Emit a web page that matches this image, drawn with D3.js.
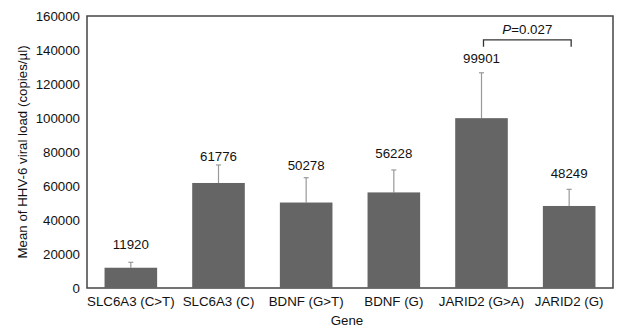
<!DOCTYPE html>
<html>
<head>
<meta charset="utf-8">
<script src="https://cdn.jsdelivr.net/npm/d3@7"></script>
<style>
  body { margin: 0; background: #fff; }
  text { font-family: "Liberation Sans", Arial, sans-serif; fill: #111; }
</style>
</head>
<body>
<div id="chart"></div>
<script>
// chart data
var genes = ["SLC6A3 (C>T)", "SLC6A3 (C)", "BDNF (G>T)", "BDNF (G)", "JARID2 (G>A)", "JARID2 (G)"];
var means = [11920, 61776, 50278, 56228, 99901, 48249];
var errUp = [3200, 10600, 14600, 13200, 26700, 9800];
var yTicks = [0, 20000, 40000, 60000, 80000, 100000, 120000, 140000, 160000];

var width = 617, height = 332;
var margin = {top: 16, right: 4, bottom: 44, left: 87};

var svg = d3.select('#chart')
  .append('svg')
  .attr('width', width)
  .attr('height', height);

var x = d3.scaleBand()
  .domain(genes)
  .range([margin.left, width - margin.right])
  .paddingInner(0.4)
  .paddingOuter(0.2);

var y = d3.scaleLinear()
  .domain([0, 160000])
  .range([height - margin.bottom, margin.top]);

// frame round the plot area
svg.append('rect')
  .attr('x', margin.left)
  .attr('y', margin.top)
  .attr('width', width - margin.right - margin.left)
  .attr('height', height - margin.bottom - margin.top)
  .attr('fill', 'none')
  .attr('stroke', '#444')
  .attr('stroke-width', 1.5);

// y axis, labels only
var yAxis = svg.append('g')
  .attr('transform', 'translate(' + margin.left + ',0)')
  .call(d3.axisLeft(y).tickValues(yTicks).tickSize(0).tickPadding(7).tickFormat(d3.format('d')));
yAxis.select('.domain').remove();
yAxis.selectAll('text').style('font-size', '13.3px').style('font-family', '"Liberation Sans", Arial, sans-serif').attr('fill', '#111');

// x axis, labels only
var xAxis = svg.append('g')
  .attr('transform', 'translate(0,' + (height - margin.bottom) + ')')
  .call(d3.axisBottom(x).tickSize(0).tickPadding(9));
xAxis.select('.domain').remove();
xAxis.selectAll('text').style('font-size', '13.3px').style('font-family', '"Liberation Sans", Arial, sans-serif').attr('fill', '#111');

// error bars (upper only)
var err = svg.append('g').attr('stroke', '#999').attr('stroke-width', 1.2);
genes.forEach(function(g, i) {
  var cx = x(g) + x.bandwidth() / 2;
  err.append('line')
    .attr('x1', cx).attr('x2', cx)
    .attr('y1', y(means[i])).attr('y2', y(means[i] + errUp[i]));
  err.append('line')
    .attr('x1', cx - 2.5).attr('x2', cx + 2.5)
    .attr('y1', y(means[i] + errUp[i])).attr('y2', y(means[i] + errUp[i]));
});

// bars
svg.append('g').selectAll('rect')
  .data(means)
  .enter()
  .append('rect')
  .attr('x', function(d, i) { return x(genes[i]); })
  .attr('y', function(d) { return y(d); })
  .attr('width', x.bandwidth())
  .attr('height', function(d) { return y(0) - y(d); })
  .attr('fill', '#656565');

// value labels sit a little above each error bar
var labelLift = [13, 4, 8, 12, 10, 11];
svg.append('g').selectAll('text')
  .data(means)
  .enter()
  .append('text')
  .attr('x', function(d, i) { return x(genes[i]) + x.bandwidth() / 2; })
  .attr('y', function(d, i) { return y(d + errUp[i]) - labelLift[i]; })
  .attr('text-anchor', 'middle')
  .style('font-size', '13.3px')
  .text(function(d) { return d; });

// significance bracket between the JARID2 bars
var xa = x(genes[4]) + x.bandwidth() / 2 + 2;
var xb = x(genes[5]) + x.bandwidth() / 2 + 2;
var yb = y(146000);
svg.append('path')
  .attr('d', 'M' + xa + ',' + (yb + 7) + 'V' + yb + 'H' + xb + 'V' + (yb + 7))
  .attr('fill', 'none')
  .attr('stroke', '#333')
  .attr('stroke-width', 1.3);
var pLabel = svg.append('text')
  .attr('x', (xa + xb) / 2)
  .attr('y', yb - 6)
  .attr('text-anchor', 'middle')
  .style('font-size', '13.3px');
pLabel.append('tspan').style('font-style', 'italic').text('P');
pLabel.append('tspan').text('=0.027');

// axis titles
svg.append('text')
  .attr('transform', 'translate(22,' + ((margin.top + height - margin.bottom) / 2) + ') rotate(-90)')
  .attr('text-anchor', 'middle')
  .attr('dy', '0.35em')
  .style('font-size', '13.3px')
  .text('Mean of HHV-6 viral load (copies/\u00b5l)');

svg.append('text')
  .attr('x', 347)
  .attr('y', 325)
  .attr('text-anchor', 'middle')
  .style('font-size', '13.3px')
  .text('Gene');
</script>
</body>
</html>
